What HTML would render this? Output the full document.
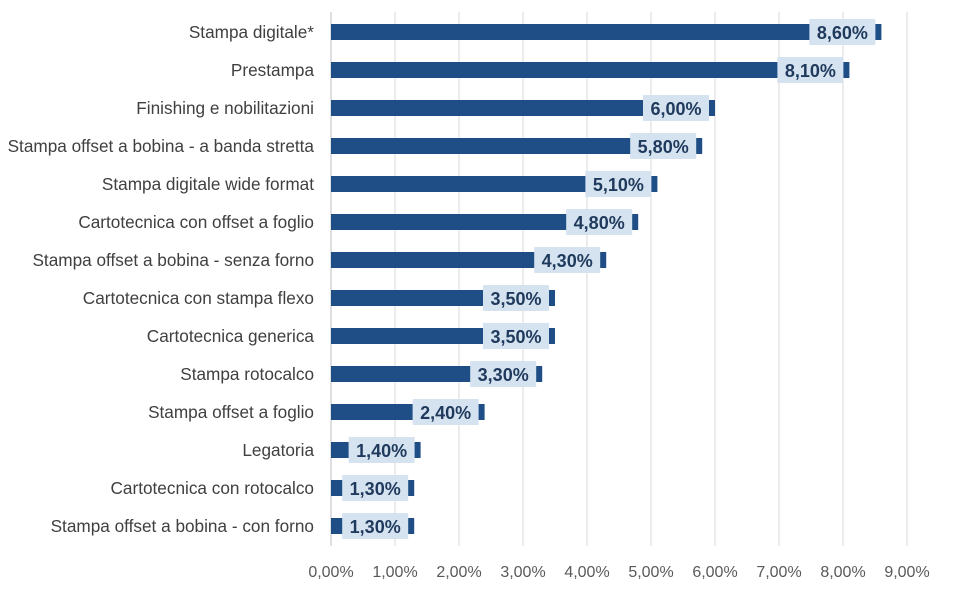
<!DOCTYPE html>
<html><head><meta charset="utf-8"><style>
body{margin:0;background:#fff;}
svg text{font-family:"Liberation Sans",sans-serif;}
</style></head><body>
<svg id="c" width="954" height="590" xmlns="http://www.w3.org/2000/svg"></svg>
<script>
const categories=["Stampa digitale*","Prestampa","Finishing e nobilitazioni","Stampa offset a bobina - a banda stretta","Stampa digitale wide format","Cartotecnica con offset a foglio","Stampa offset a bobina - senza forno","Cartotecnica con stampa flexo","Cartotecnica generica","Stampa rotocalco","Stampa offset a foglio","Legatoria","Cartotecnica con rotocalco","Stampa offset a bobina - con forno"];
const values=[8.6,8.1,6.0,5.8,5.1,4.8,4.3,3.5,3.5,3.3,2.4,1.4,1.3,1.3];
const ticks=[0,1,2,3,4,5,6,7,8,9];
const svg=document.getElementById('c');
const NS="http://www.w3.org/2000/svg";
const x=v=>331+v*64;
const y=i=>32+i*38;
function el(t,a,p){const e=document.createElementNS(NS,t);for(const k in a)e.setAttribute(k,a[k]);(p||svg).appendChild(e);return e;}
ticks.forEach(t=>{
  const g=el('line',{x1:x(t),x2:x(t),y1:12,y2:546,stroke:t===0?'#bfbfbf':'#d9d9d9','stroke-width':1});
  
  
  const l=el('text',{x:x(t),y:577,'text-anchor':'middle','font-size':16,fill:'#595959'});
  l.textContent=t.toFixed(2).replace('.',',')+'%';
  
  
});
categories.forEach((c,i)=>{
  const cy=y(i);
  const lab=el('text',{x:314,y:cy+6,'text-anchor':'end','font-size':17.2,fill:'#404040'});
  lab.textContent=c;
  
  
  const b=el('rect',{x:x(0),y:cy-8,width:x(values[i])-x(0),height:16,fill:'#1f4e86'});
  
  
  const bx=x(values[i])-72;
  const box=el('rect',{x:bx,y:cy-13,width:66,height:26,fill:'#d5e3f1'});
  
  
  const v=el('text',{x:bx+33,y:cy+7,'text-anchor':'middle','font-size':18,'font-weight':'bold',fill:'#1f3a5c'});
  v.textContent=values[i].toFixed(2).replace('.',',')+'%';
  
  
});
</script>
</body></html>
